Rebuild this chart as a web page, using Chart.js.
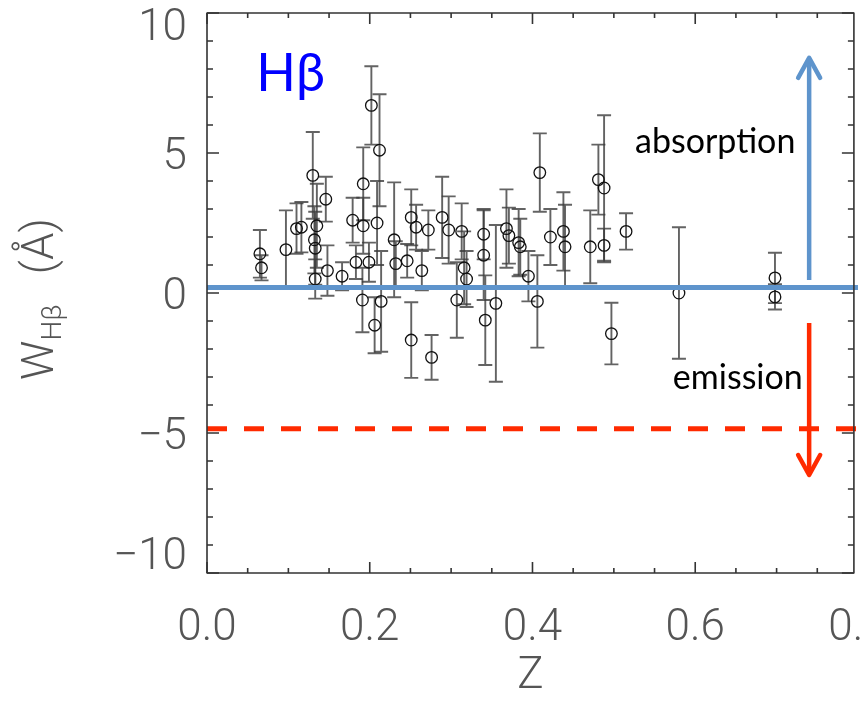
<!DOCTYPE html>
<html><head><meta charset="utf-8">
<script src="https://cdn.jsdelivr.net/npm/chart.js@4.4.1/dist/chart.umd.min.js"></script>
<style>html,body{margin:0;padding:0;background:#fff;overflow:hidden;width:861px;height:703px}canvas{display:block}</style>
</head><body><canvas id="c" width="861" height="703"></canvas>
<script>
// ---- data ----
const zValues = [0.065,0.067,0.097,0.110,0.116,0.130,0.132,0.133,0.133,0.135,0.146,0.148,0.166,0.179,0.183,0.191,0.192,0.192,0.199,0.202,0.206,0.209,0.212,0.214,0.230,0.232,0.246,0.251,0.251,0.257,0.264,0.272,0.276,0.289,0.297,0.307,0.313,0.316,0.319,0.340,0.340,0.342,0.355,0.368,0.371,0.383,0.385,0.395,0.406,0.409,0.422,0.438,0.440,0.471,0.481,0.488,0.488,0.497,0.515,0.580,0.698,0.698];
const wValues = [1.40,0.90,1.55,2.30,2.35,4.20,1.90,1.60,0.50,2.40,3.35,0.80,0.60,2.60,1.10,-0.25,3.90,2.40,1.10,6.70,-1.15,2.50,5.10,-0.30,1.90,1.05,1.15,2.70,-1.68,2.35,0.80,2.25,-2.30,2.70,2.25,-0.25,2.20,0.90,0.50,2.10,1.35,-0.97,-0.37,2.30,2.05,1.80,1.65,0.60,-0.30,4.30,2.00,2.20,1.65,1.65,4.05,3.75,1.70,-1.45,2.20,0.00,0.54,-0.14];
const wErrors = [0.85,0.45,1.40,0.90,0.90,1.55,1.20,1.30,0.70,1.50,0.80,0.90,0.50,0.80,0.60,1.15,1.30,1.00,0.70,1.40,1.00,1.50,2.00,1.80,2.05,0.80,0.60,1.00,1.35,0.80,0.70,0.70,0.80,1.45,1.20,1.35,1.00,1.30,1.00,0.90,1.60,1.60,2.80,1.40,1.00,1.20,1.00,0.90,1.65,1.40,1.00,1.40,1.50,1.30,1.25,2.60,0.60,1.10,0.65,2.35,0.90,0.45];
const xTickValues = [0, 0.2, 0.4, 0.6, 0.8];
const xTickLabels = ['0.0','0.2','0.4','0.6','0.8'];
const yTickValues = [-10, -5, 0, 5, 10];
const yTickLabels = ['\u221210','\u22125','0','5','10'];
const absorptionLevel = [0.2];          // blue horizontal line (W)
const emissionLimit = [-4.85];          // red dashed line (W)
const absorptionArrow = [0.740, 0.46, 8.4];   // z, W from, W to
const emissionArrow = [0.740, -1.07, -6.5];
const panelLabel = 'H\u03B2';
const arrowLabels = ['absorption', 'emission'];

const BLUE = '#5E94CC', RED = '#FF2A00', AXIS = '#555', FONT = 'Roboto';

const errorBars = {
  id: 'errorBars',
  beforeDatasetsDraw(chart) {
    const {ctx, chartArea: a, scales: {x, y}} = chart;
    ctx.save();
    ctx.beginPath(); ctx.rect(a.left, a.top, a.right - a.left, a.bottom - a.top); ctx.clip();
    ctx.strokeStyle = 'rgba(60,60,60,0.8)'; ctx.lineWidth = 1.9;
    zValues.forEach((z, i) => {
      const px = x.getPixelForValue(z);
      const t = y.getPixelForValue(wValues[i] + wErrors[i]);
      const b = y.getPixelForValue(wValues[i] - wErrors[i]);
      ctx.beginPath();
      ctx.moveTo(px, t); ctx.lineTo(px, b);
      ctx.moveTo(px - 7, t); ctx.lineTo(px + 7, t);
      ctx.moveTo(px - 7, b); ctx.lineTo(px + 7, b);
      ctx.stroke();
    });
    ctx.restore();
  }
};

function arrow(ctx, x, y0, y1, color) {
  const dir = y1 < y0 ? 1 : -1;
  ctx.strokeStyle = color; ctx.lineWidth = 4.5; ctx.lineCap = 'butt';
  ctx.beginPath(); ctx.moveTo(x, y0); ctx.lineTo(x, y1 + dir * 2); ctx.stroke();
  ctx.lineCap = 'round'; ctx.lineJoin = 'round';
  ctx.beginPath();
  ctx.moveTo(x - 11, y1 + dir * 20); ctx.lineTo(x, y1); ctx.lineTo(x + 11, y1 + dir * 20);
  ctx.stroke();
}

const decorations = {
  id: 'decorations',
  afterDatasetsDraw(chart) {
    const {ctx, chartArea: a, scales: {x, y}} = chart;
    ctx.save();
    arrow(ctx, x.getPixelForValue(absorptionArrow[0]), y.getPixelForValue(absorptionArrow[1]), y.getPixelForValue(absorptionArrow[2]), BLUE);
    arrow(ctx, x.getPixelForValue(emissionArrow[0]), y.getPixelForValue(emissionArrow[1]), y.getPixelForValue(emissionArrow[2]), RED);
    ctx.textBaseline = 'alphabetic'; ctx.textAlign = 'left';
    ctx.fillStyle = '#0000FF'; ctx.font = '52px Lato';
    ctx.fillText(panelLabel, x.getPixelForValue(0.0605), y.getPixelForValue(7.21));
    ctx.fillStyle = '#000'; ctx.font = '34px Lato';
    ctx.fillText(arrowLabels[0], x.getPixelForValue(0.526), y.getPixelForValue(5.0));
    ctx.fillText(arrowLabels[1], x.getPixelForValue(0.5725), y.getPixelForValue(-3.43));
    ctx.strokeStyle = '#333'; ctx.lineWidth = 1.6; ctx.lineCap = 'butt';
    ctx.strokeRect(a.left, a.top, a.right - a.left, a.bottom - a.top);
    ctx.beginPath();
    for (let v = -10; v <= 10; v++) {
      const py = y.getPixelForValue(v);
      const len = v % 5 === 0 ? 12 : 6;
      ctx.moveTo(a.left, py); ctx.lineTo(a.left + len, py);
      ctx.moveTo(a.right, py); ctx.lineTo(a.right - len, py);
    }
    for (let k = 0; k * 0.05 <= x.max + 1e-9; k++) {
      const px = x.getPixelForValue(k * 0.05);
      const len = k % 4 === 0 ? 11 : 5;
      ctx.moveTo(px, a.bottom); ctx.lineTo(px, a.bottom - len);
      ctx.moveTo(px, a.top); ctx.lineTo(px, a.top + len);
    }
    ctx.stroke();
    ctx.restore();
  },
  afterDraw(chart) {
    const {ctx} = chart;
    ctx.save();
    ctx.translate(53, 380);
    ctx.rotate(-Math.PI / 2);
    ctx.fillStyle = AXIS; ctx.textBaseline = 'alphabetic'; ctx.textAlign = 'left';
    ctx.font = '300 44px ' + FONT;
    ctx.fillText('W', 0, 0);
    let w = ctx.measureText('W').width;
    ctx.font = '300 28px ' + FONT;
    ctx.fillText('H\u03B2', w, 8);
    w += ctx.measureText('H\u03B2').width + 30;
    ctx.font = '300 44px ' + FONT;
    ctx.fillText('(\u00C5)', w, 0);
    ctx.restore();
  }
};

new Chart(document.getElementById('c'), {
  type: 'scatter',
  data: {
    datasets: [
      { type: 'line', data: [{x: 0, y: absorptionLevel[0]}, {x: 0.8, y: absorptionLevel[0]}], borderColor: BLUE, borderWidth: 5, pointRadius: 0, clip: false },
      { type: 'line', data: [{x: 0, y: emissionLimit[0]}, {x: 0.8, y: emissionLimit[0]}], borderColor: RED, borderWidth: 5, borderDash: [20, 17], pointRadius: 0, clip: false },
      { data: zValues.map((z, i) => ({x: z, y: wValues[i]})), pointRadius: 5.8, pointHoverRadius: 5.8, pointBorderWidth: 1.3, borderColor: '#111', backgroundColor: 'rgba(0,0,0,0)', showLine: false }
    ]
  },
  options: {
    responsive: false, animation: false,
    layout: { padding: { top: 13, right: 4, bottom: 0, left: 0 } },
    plugins: { legend: { display: false }, tooltip: { enabled: false } },
    scales: {
      x: {
        type: 'linear', min: 0, max: 0.795,
        grid: { display: false, drawTicks: false }, border: { display: false },
        afterBuildTicks: s => { s.ticks = xTickValues.map(v => ({value: v})); },
        ticks: { autoSkip: false, maxRotation: 0, padding: 30, color: AXIS,
          font: { family: FONT, size: 44, weight: '300' },
          callback: (v, i) => xTickLabels[i] },
        title: { display: true, text: 'Z', color: AXIS, font: { family: FONT, size: 44, weight: '300' }, padding: { top: 0, bottom: 0 } },
        afterFit: s => { s.height = 130; s.paddingLeft = 0; s.paddingRight = 0; }
      },
      y: {
        type: 'linear', min: -10, max: 10,
        grid: { display: false, drawTicks: false }, border: { display: false },
        afterBuildTicks: s => { s.ticks = yTickValues.map(v => ({value: v})); },
        ticks: { padding: 20, color: AXIS, labelOffset: 5,
          font: ctx => ({ family: FONT, size: 44, weight: '300',
            lineHeight: (ctx.tick && ctx.tick.value === 10) ? 0.5 : (ctx.tick && ctx.tick.value === -10) ? 0.9 : 1.2 }),
          callback: (v, i) => v === 10 ? ['', yTickLabels[i]] : v === -10 ? [yTickLabels[i], ''] : yTickLabels[i] },
        afterFit: s => { s.width = 207; s.paddingTop = 0; s.paddingBottom = 0; }
      }
    }
  },
  plugins: [errorBars, decorations]
});
</script>
</body></html>
